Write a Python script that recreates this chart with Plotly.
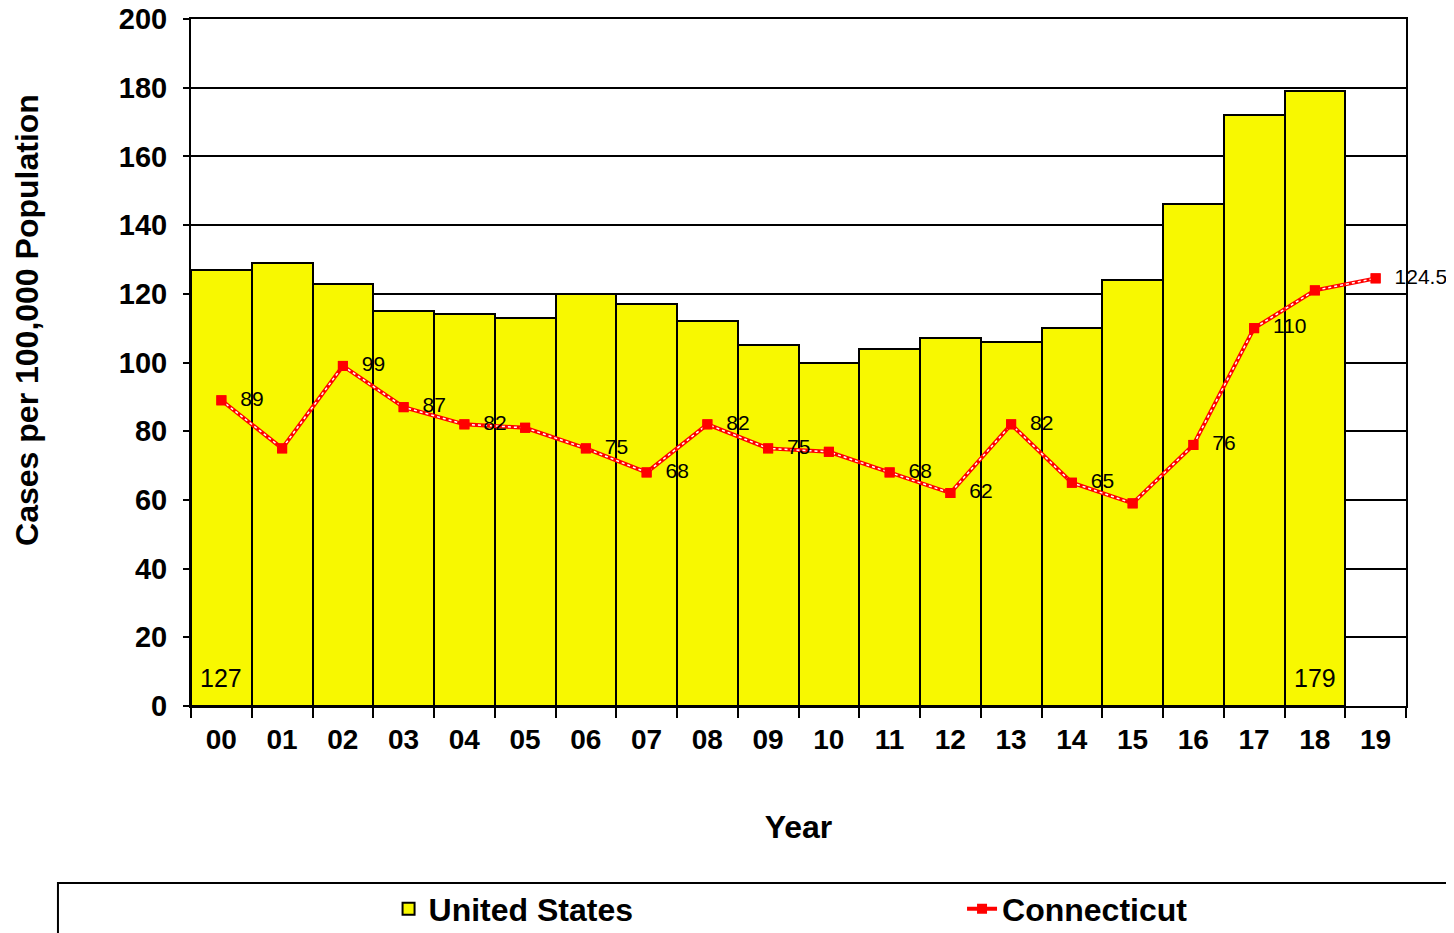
import plotly.graph_objects as go

# 연도 (2000-2019)
years = ["00", "01", "02", "03", "04", "05", "06", "07", "08", "09",
         "10", "11", "12", "13", "14", "15", "16", "17", "18", "19"]

# United States rate per 100,000 (no 2019 value)
us_rate = [127, 129, 123, 115, 114, 113, 120, 117, 112, 105,
           100, 104, 107, 106, 110, 124, 146, 172, 179, None]
us_labels = ["127", "", "", "", "", "", "", "", "", "",
             "", "", "", "", "", "", "", "", "179", ""]

# Connecticut rate per 100,000
ct_rate = [89, 75, 99, 87, 82, 81, 75, 68, 82, 75,
           74, 68, 62, 82, 65, 59, 76, 110, 121, 124.5]
ct_labels = ["89", "", "99", "87", "82", "", "75", "68", "82", "75",
             "", "68", "62", "82", "65", "", "76", "110", "", "124.5"]

font_name = "Liberation Sans, Arial, sans-serif"

fig = go.Figure()

# US bars
fig.add_trace(go.Bar(
    x=years, y=us_rate, name="United States",
    marker=dict(color="#F8F800", line=dict(color="black", width=2)),
    legend="legend"
))

# CT line (red base)
fig.add_trace(go.Scatter(
    x=years, y=ct_rate, mode="lines+markers", name="Connecticut",
    line=dict(color="#FF0000", width=4),
    marker=dict(symbol="square", size=10, color="#FF0000"),
    legend="legend2"
))

# white dotted overlay
fig.add_trace(go.Scatter(
    x=years, y=ct_rate, mode="lines", showlegend=False, hoverinfo="skip",
    line=dict(color="white", width=1.5, dash="dot")
))

# markers + labels on top
fig.add_trace(go.Scatter(
    x=years, y=ct_rate, mode="markers+text", showlegend=False,
    marker=dict(symbol="square", size=10, color="#FF0000"),
    text=ct_labels, texttemplate="  %{text}", textposition="middle right",
    textfont=dict(size=21, color="black", family=font_name),
    cliponaxis=False
))

# 막대 아래쪽 값 표시 (127, 179)
for yr, lab in zip(years, us_labels):
    if lab:
        fig.add_annotation(
            x=yr, y=0, text=lab, showarrow=False,
            yanchor="bottom", yshift=12,
            font=dict(size=25, color="black", family=font_name)
        )

# y축 제목 (플롯 중앙보다 약간 위)
fig.add_annotation(
    xref="paper", yref="paper", x=-0.135, y=0.562,
    text="<b>Cases per 100,000 Population</b>", textangle=-90,
    showarrow=False, xanchor="center", yanchor="middle",
    font=dict(size=32, color="black", family=font_name)
)

legend_font = dict(size=32, family=font_name, color="black", weight="bold")

fig.update_layout(
    width=1454, height=933,
    margin=dict(l=183, r=56, t=11, b=235, autoexpand=False),
    paper_bgcolor="white", plot_bgcolor="white",
    bargap=0,
    font=dict(family=font_name, color="black"),
    showlegend=True,
    legend=dict(
        orientation="h", x=0.1626, y=-0.2955, xanchor="left", yanchor="middle",
        font=legend_font, bgcolor="rgba(0,0,0,0)"
    ),
    legend2=dict(
        orientation="h", x=0.6346, y=-0.2955, xanchor="left", yanchor="middle",
        font=legend_font, bgcolor="rgba(0,0,0,0)"
    ),
    xaxis=dict(
        type="category", range=[-0.5, 19.5],
        tickson="boundaries", ticks="outside", ticklen=10, tickwidth=2, tickcolor="black",
        ticklabelstandoff=7,
        showline=True, linecolor="black", linewidth=2, mirror=True,
        showgrid=False,
        tickfont=dict(size=28, family=font_name, weight="bold"),
        title=dict(text="Year", font=dict(size=32, family=font_name, weight="bold"), standoff=62)
    ),
    yaxis=dict(
        range=[0, 200], dtick=20,
        ticks="outside", ticklen=6, tickwidth=2, tickcolor="black",
        ticklabelstandoff=10, ticklabeloverflow="allow",
        showline=True, linecolor="black", linewidth=2, mirror=True,
        showgrid=True, gridcolor="black", gridwidth=1.5,
        zeroline=False,
        tickfont=dict(size=29, family=font_name, weight="bold")
    ),
    shapes=[dict(
        type="rect", xref="paper", yref="paper",
        x0=-0.1095, x1=1.1, y0=-0.2576, y1=-0.345,
        line=dict(color="black", width=2), fillcolor="rgba(0,0,0,0)"
    )]
)

fig.write_html("out.html")
